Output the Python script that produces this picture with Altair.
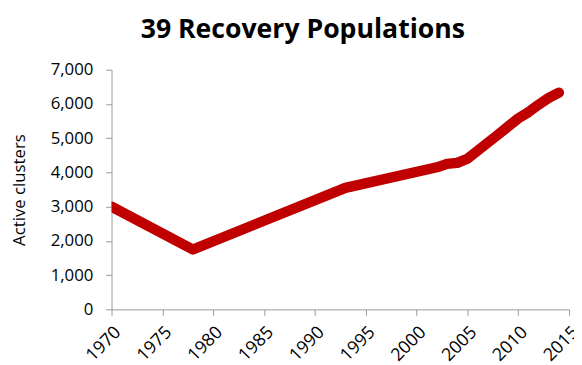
import altair as alt
import pandas as pd

years = [1970, 1978, 1993, 2002, 2003, 2004, 2005, 2008, 2010, 2011, 2012, 2013, 2014]
clusters = [3000, 1750, 3550, 4150, 4250, 4280, 4400, 5100, 5580, 5760, 5980, 6180, 6330]

df = pd.DataFrame({"year": years, "clusters": clusters})

FONT = "Open Sans"

chart = alt.Chart(df).mark_line(
    color="#C00000", strokeWidth=10.5, strokeCap="round", strokeJoin="round", clip=True
).encode(
    x=alt.X("year:Q", scale=alt.Scale(domain=[1970, 2015], nice=False, zero=False),
            axis=alt.Axis(values=list(range(1970, 2016, 5)), format="d", title=None,
                          labelAngle=-45, labelAlign="right", labelBaseline="top",
                          labelPadding=8, labelFontSize=18, labelFont=FONT,
                          labelColor="#000000", tickSize=6, tickColor="#999999",
                          domainColor="#999999", grid=False, labelOverlap=False,
                          labelFlush=False)),
    y=alt.Y("clusters:Q", scale=alt.Scale(domain=[0, 7000], nice=False),
            axis=alt.Axis(values=list(range(0, 7001, 1000)), format=",d",
                          title="Active clusters", titleFont=FONT, titleFontSize=17,
                          titleFontWeight="normal", titleColor="#000000",
                          titlePadding=22,
                          labelFontSize=17, labelFont=FONT, labelColor="#000000",
                          labelPadding=13, tickSize=6, tickColor="#999999",
                          domainColor="#999999", grid=False)),
).properties(
    width=464, height=243,
    background="white",
    title=alt.TitleParams("39 Recovery Populations", font=FONT, fontSize=27,
                          fontWeight="bold", color="#000000", anchor="middle",
                          dx=-38, offset=17),
    autosize=alt.AutoSizeParams(type="none"),
    padding={"left": 105, "top": 60, "right": 5, "bottom": 70},
).configure_view(strokeWidth=0, stroke=None)

chart.save("out.html", embed_options={"renderer": "svg", "actions": False})
